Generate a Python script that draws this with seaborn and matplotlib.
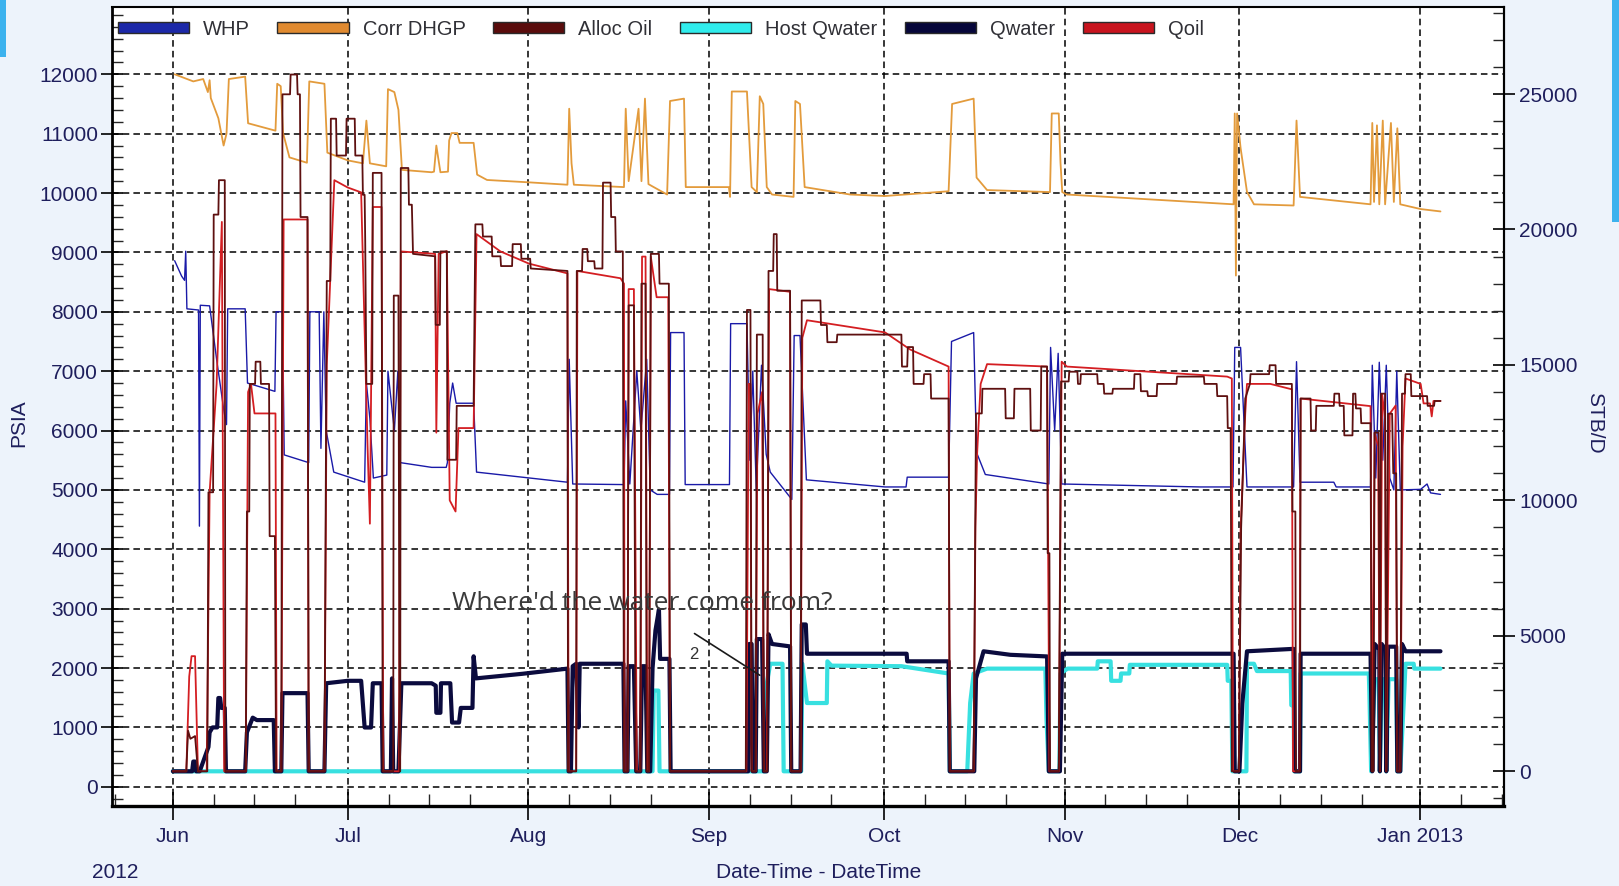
import numpy as np
import pandas as pd
import matplotlib
matplotlib.use("Agg")
import matplotlib.pyplot as plt
import matplotlib.dates as mdates
from matplotlib.patches import Patch, Rectangle
from matplotlib.ticker import FixedLocator
import seaborn as sns

sns.set_theme(style="white")
plt.rcParams["font.family"] = ["Liberation Sans", "DejaVu Sans"]

START = pd.Timestamp("2012-06-01")

# (days since 1 Jun 2012, value) breakpoints for each trace
whp = [(0.3, 8860), (1.5, 8600), (2.0, 8530), (2.2, 9020), (2.4, 8050), (4.4, 8030), (4.55, 4390),
       (4.7, 8110), (6.3, 8100), (7.5, 7200), (8.8, 6300), (9.2, 6100), (9.4, 8050), (12.4, 8050),
       (12.8, 6800), (17.5, 6660), (17.7, 8000), (18.8, 8000), (19.1, 5590), (23.3, 5460), (23.5, 8000),
       (25.1, 8000), (25.4, 5700), (25.9, 8000), (26.3, 6000), (27.6, 5300), (32.9, 5130), (33.2, 6800),
       (33.8, 6200), (34.4, 5200), (36.7, 5250), (36.9, 7000), (38.0, 6000), (38.6, 7000), (39.0, 5460),
       (44.4, 5380), (46.9, 5380), (47.1, 5460), (47.5, 6460), (48.0, 6800), (48.6, 6460), (51.6, 6460),
       (52.1, 5300), (67.7, 5130), (68.0, 7200), (68.6, 5100), (77.4, 5090), (77.7, 6500), (78.4, 5100),
       (79.6, 7000), (80.3, 6000), (81.3, 7200), (81.9, 5000), (83.1, 4925), (85.2, 4925), (85.4, 7650),
       (87.7, 7650), (87.9, 5090), (95.5, 5090), (95.7, 7800), (98.5, 7800), (99.0, 5500), (99.5, 7000),
       (100.1, 5000), (101.0, 7100), (101.8, 5600), (102.5, 5300), (106.2, 4840), (106.6, 7600),
       (107.6, 7600), (108.7, 5170), (122.2, 5050), (125.8, 5050), (126.0, 5215), (133.1, 5215),
       (133.6, 7500), (137.4, 7650), (137.9, 5630), (139.4, 5260), (150.3, 5100), (150.6, 7400),
       (151.3, 6000), (151.9, 7300), (152.5, 5100), (176.3, 5050), (181.9, 5050), (182.2, 7400),
       (183.2, 7400), (184.3, 5050), (192.3, 5050), (192.8, 7160), (193.4, 5130), (199.2, 5130),
       (199.6, 5050), (205.5, 5050), (205.8, 7100), (206.4, 5200), (207.0, 7150), (207.6, 5500),
       (208.2, 7100), (208.8, 5200), (209.5, 5000), (210.0, 7000), (210.6, 5000), (214.1, 5010),
       (215.2, 5100), (215.8, 4950), (217.5, 4925)]

corr_dhgp = [(0.3, 12000), (3.5, 11880), (5.2, 11920), (6.0, 11700), (6.3, 11900), (6.5, 11600),
             (7.8, 11260), (8.7, 10800), (9.2, 11000), (9.6, 11920), (12.4, 11960), (12.9, 11175),
             (17.6, 11050), (17.9, 11840), (18.5, 11800), (18.9, 11010), (20.0, 10600), (23.0, 10510),
             (23.4, 11880), (26.0, 11840), (26.5, 10680), (30.0, 10550), (32.6, 10500), (33.2, 11220),
             (33.8, 10500), (36.6, 10450), (36.9, 11750), (38.0, 11700), (38.7, 11400), (39.3, 10390),
             (44.4, 10350), (44.8, 10360), (45.2, 10800), (45.9, 10350), (47.2, 10360), (47.4, 10885),
             (47.8, 11010), (48.8, 11010), (49.2, 10845), (51.6, 10845), (52.2, 10310), (53.9, 10220),
             (61.1, 10180), (67.7, 10140), (68.0, 11420), (68.4, 10500), (68.8, 10140), (77.4, 10100),
             (77.7, 11420), (78.2, 10200), (79.9, 11420), (80.4, 10200), (81.0, 11590), (81.6, 10150),
             (82.5, 10100), (84.8, 9975), (85.3, 11550), (87.7, 11590), (88.0, 10100), (95.4, 10100),
             (95.6, 9935), (95.9, 11710), (98.5, 11710), (99.3, 10100), (100.2, 10015), (100.7, 11630),
             (101.3, 11500), (101.9, 10100), (102.8, 9975), (106.5, 9935), (106.8, 11550), (107.6, 11500),
             (108.4, 10100), (116.2, 9975), (122.2, 9950), (133.1, 10030), (133.7, 11500), (137.4, 11590),
             (137.9, 10260), (139.7, 10050), (150.5, 10016), (150.8, 11340), (152.0, 11340), (152.3, 10510),
             (152.6, 10016), (153.4, 9975), (182.0, 9810), (182.2, 11340), (182.4, 8610), (182.6, 11340),
             (183.2, 10760), (184.3, 10020), (185.5, 9810), (192.3, 9790), (192.8, 11220), (193.4, 9935),
             (205.5, 9810), (205.8, 11180), (206.1, 9850), (206.6, 11140), (207.0, 9810), (207.6, 11220),
             (208.0, 9810), (209.0, 11180), (209.5, 9850), (210.1, 11090), (210.6, 9810), (214.1, 9730),
             (217.5, 9690)]

alloc_oil = [(0, 0), (2.3, 0), (2.6, 1500), (3.0, 1200), (3.8, 1300), (4.3, 0), (5.9, 0), (6.1, 10300),
             (6.9, 10300), (7.0, 20550), (7.8, 20550), (7.9, 21820), (8.9, 21820), (9.0, 0), (12.5, 0),
             (12.7, 9590), (13.1, 9590), (13.2, 14300), (14.1, 14300), (14.2, 15120), (15.0, 15120),
             (15.1, 14300), (16.5, 14300), (16.6, 8680), (17.5, 8680), (17.7, 0), (18.6, 0), (18.8, 24990),
             (20.1, 24990), (20.2, 25720), (21.3, 25720), (21.4, 24990), (21.8, 24990), (21.9, 20460),
             (23.1, 20460), (23.3, 0), (26.0, 0), (26.4, 18100), (27.0, 18100), (27.1, 24090), (28.0, 24090),
             (28.1, 22730), (29.7, 22730), (29.8, 24090), (31.2, 24090), (31.3, 22730), (32.5, 22730),
             (32.6, 21280), (32.9, 21280), (33.0, 19550), (33.2, 14300), (34.2, 14300), (34.3, 22090),
             (35.8, 22090), (36.0, 0), (37.8, 0), (37.9, 17560), (38.7, 17560), (38.9, 0), (39.0, 0),
             (39.1, 22270), (40.4, 22270), (40.5, 20915), (41.0, 20915), (41.2, 19100), (45.0, 19010),
             (45.1, 16480), (45.8, 16480), (45.9, 19190), (47.0, 19190), (47.1, 11500), (48.6, 11500),
             (48.7, 13490), (51.6, 13490), (51.9, 20190), (53.1, 20190), (53.2, 19740), (54.7, 19740),
             (54.8, 19010), (56.2, 19010), (56.3, 18650), (58.2, 18650), (58.3, 19460), (59.7, 19460),
             (59.8, 18920), (61.3, 18920), (61.4, 18560), (67.7, 18470), (67.8, 0), (69.2, 0), (69.3, 18470),
             (70.2, 18470), (70.3, 19280), (71.1, 19280), (71.2, 18830), (72.3, 18830), (72.4, 18560),
             (73.7, 18560), (73.8, 21730), (75.1, 21730), (75.2, 20460), (75.9, 20460), (76.0, 19190),
             (77.2, 19190), (77.4, 0), (78.0, 0), (78.2, 17200), (79.1, 17200), (79.4, 0), (80.2, 0),
             (80.4, 18000), (81.1, 18000), (81.3, 0), (81.7, 0), (82.0, 19100), (83.4, 19100), (83.5, 18000),
             (85.1, 18000), (85.3, 0), (98.3, 0), (98.5, 17030), (99.1, 17030), (99.3, 0), (100.0, 0),
             (100.2, 16120), (101.2, 16120), (101.4, 0), (102.0, 0), (102.2, 18470), (103.0, 18470),
             (103.1, 19830), (103.6, 19830), (103.7, 17740), (105.9, 17740), (106.1, 0), (107.7, 0),
             (107.9, 17380), (111.1, 17380), (111.2, 16475), (112.2, 16475), (112.3, 15840), (113.9, 15840),
             (114.0, 16120), (125.0, 16120), (125.1, 14940), (126.0, 14940), (126.1, 15660), (127.0, 15660),
             (127.1, 14300), (128.8, 14300), (128.9, 14660), (130.0, 14660), (130.1, 13760), (133.1, 13760),
             (133.3, 0), (137.4, 0), (137.8, 13210), (138.8, 13210), (138.9, 14120), (142.8, 14120),
             (142.9, 13030), (144.3, 13030), (144.4, 14120), (147.1, 14120), (147.2, 12580), (148.9, 12580),
             (149.0, 14940), (150.0, 14940), (150.1, 8050), (150.4, 8050), (150.5, 0), (152.0, 0),
             (152.4, 14390), (153.7, 14390), (153.8, 14750), (155.2, 14750), (155.3, 14300), (155.7, 14300),
             (155.8, 14660), (158.6, 14660), (158.7, 14300), (159.7, 14300), (159.8, 13940), (161.2, 13940),
             (161.3, 14120), (164.9, 14120), (165.0, 14660), (166.0, 14660), (166.1, 14030), (167.2, 14030),
             (167.3, 13850), (168.8, 13850), (168.9, 14300), (172.2, 14300), (172.3, 14570), (176.9, 14570),
             (177.0, 14300), (179.1, 14300), (179.2, 13850), (180.9, 13850), (181.0, 12670), (181.5, 12670),
             (181.7, 0), (182.9, 0), (183.3, 9000), (184.0, 13760), (184.8, 14300), (184.9, 14660),
             (188.1, 14660), (188.2, 14990), (189.2, 14990), (189.3, 14300), (192.0, 14300), (192.1, 9590),
             (192.6, 9590), (192.7, 0), (193.4, 0), (193.5, 13760), (195.2, 13760), (195.3, 12580),
             (196.1, 12580), (196.2, 13490), (199.2, 13490), (199.3, 13940), (200.1, 13940), (200.2, 13490),
             (200.9, 13490), (201.0, 12400), (202.4, 12400), (202.5, 13940), (202.9, 13940), (203.0, 13395),
             (203.8, 13395), (203.9, 12850), (205.5, 12850), (205.7, 0), (206.0, 0), (206.2, 12500),
             (206.9, 12500), (207.1, 0), (207.3, 13940), (208.0, 13940), (208.2, 0), (208.5, 13200),
             (209.2, 13200), (209.4, 11000), (209.9, 11000), (210.1, 0), (210.6, 0), (210.9, 13940),
             (211.4, 13940), (211.5, 14660), (212.4, 14660), (212.5, 13850), (215.2, 13850), (215.3, 13490),
             (216.4, 13490), (216.5, 13670), (217.5, 13670)]

host_qwater = [(0, 0), (82.3, 0), (82.5, 2980), (83.3, 2980), (83.5, 0), (101.7, 0), (101.9, 3250),
               (102.5, 3970), (104.6, 3970), (104.8, 0), (107.8, 0), (108.0, 3970), (108.8, 2520),
               (112.2, 2520), (112.3, 4060), (113.0, 3900), (125.0, 3880), (133.1, 3610), (133.3, 0),
               (136.3, 0), (136.8, 2520), (137.4, 3610), (139.7, 3790), (149.7, 3790), (149.9, 1900),
               (150.3, 0), (152.1, 0), (152.3, 3610), (153.5, 3790), (158.6, 3790), (158.7, 4060),
               (160.9, 4060), (161.0, 3340), (162.6, 3340), (162.7, 3610), (164.1, 3610), (164.2, 3930),
               (180.9, 3930), (181.0, 3340), (181.6, 3340), (181.8, 0), (184.2, 0), (184.3, 3970),
               (185.5, 3970), (186.0, 3700), (191.8, 3700), (191.9, 2440), (192.3, 2440), (192.4, 0),
               (193.4, 0), (193.5, 3610), (205.2, 3610), (205.3, 2900), (205.6, 0), (206.2, 3400),
               (206.9, 3400), (207.1, 0), (207.4, 3400), (208.0, 3400), (208.2, 0), (208.6, 3400),
               (209.9, 3400), (210.1, 0), (210.6, 0), (211.3, 3000), (211.5, 3970), (212.9, 3970),
               (213.0, 3790), (217.5, 3790)]

qwater = [(0, 0), (3.3, 0), (3.5, 360), (3.8, 360), (4.0, 0), (4.6, 0), (6.1, 900), (6.3, 1436),
          (6.8, 1620), (7.6, 1620), (7.8, 2705), (8.1, 2705), (8.3, 2340), (8.9, 2340), (9.1, 0),
          (12.4, 0), (12.7, 1436), (13.7, 1980), (14.4, 1890), (17.3, 1890), (17.5, 0), (18.6, 0),
          (18.8, 2885), (23.1, 2885), (23.3, 0), (26.0, 0), (26.3, 3250), (30.0, 3340), (32.3, 3340),
          (32.9, 1617), (34.0, 1617), (34.3, 3250), (35.8, 3250), (36.0, 0), (37.4, 0), (37.6, 3430),
          (37.8, 0), (38.7, 0), (39.2, 3250), (44.4, 3250), (45.1, 3160), (45.2, 2160), (45.9, 2160),
          (46.0, 3250), (47.6, 3250), (47.9, 1800), (49.1, 1800), (49.4, 2340), (51.4, 2340), (51.6, 4245),
          (52.0, 3430), (60.0, 3600), (67.7, 3790), (67.9, 0), (68.3, 0), (68.6, 3880), (69.2, 3970),
          (69.6, 1620), (69.8, 3970), (77.3, 3970), (77.5, 0), (78.0, 0), (78.2, 3880), (79.1, 3880),
          (79.5, 0), (80.2, 0), (80.5, 3880), (81.1, 3880), (81.4, 0), (81.9, 0), (82.3, 3800), (82.8, 5200),
          (83.4, 5970), (83.6, 4150), (85.2, 4150), (85.4, 0), (98.7, 0), (98.9, 4700), (99.3, 4700),
          (99.5, 0), (100.0, 0), (100.2, 4880), (101.1, 4880), (101.4, 0), (101.9, 0), (102.2, 5060),
          (102.8, 4700), (105.9, 4610), (106.1, 0), (107.7, 0), (107.9, 5420), (108.6, 5420), (108.8, 4340),
          (125.9, 4340), (126.0, 4060), (133.1, 4060), (133.3, 0), (137.5, 0), (137.8, 3430), (139.1, 4430),
          (143.7, 4300), (150.0, 4240), (150.3, 0), (152.2, 0), (152.6, 4340), (182.0, 4340), (182.2, 0),
          (183.0, 0), (183.5, 2500), (184.3, 4430), (192.3, 4520), (192.5, 0), (193.4, 0), (193.5, 4340),
          (205.5, 4340), (205.8, 0), (206.2, 4700), (207.0, 4500), (207.1, 0), (207.4, 4700), (208.1, 4500),
          (208.2, 0), (208.5, 4600), (209.9, 4600), (210.1, 0), (210.6, 0), (210.9, 4700), (211.5, 4430),
          (217.5, 4430)]

qoil = [(0, 0), (2.3, 0), (2.8, 3500), (3.2, 4250), (3.8, 4250), (4.3, 0), (5.8, 0), (6.3, 10300),
        (7.5, 14300), (8.4, 20280), (8.8, 0), (12.5, 0), (12.9, 14000), (13.4, 14300), (14.0, 13210),
        (17.6, 13210), (17.8, 0), (18.6, 0), (19.0, 20370), (23.1, 20370), (23.3, 0), (26.0, 0),
        (26.4, 15000), (27.7, 21820), (30.0, 21550), (32.3, 21370), (33.4, 12000), (33.8, 9140),
        (34.3, 20830), (35.8, 20830), (36.1, 0), (38.8, 0), (39.1, 19190), (45.0, 19100), (45.2, 12500),
        (45.6, 19100), (47.0, 19200), (47.5, 10000), (48.5, 9590), (49.0, 12670), (51.6, 12670),
        (52.1, 19830), (56.2, 19190), (61.1, 18740), (67.7, 18380), (67.9, 0), (69.2, 0), (69.4, 18470),
        (76.8, 18200), (77.4, 18000), (77.5, 0), (78.0, 0), (78.2, 17800), (79.1, 17800), (79.6, 0),
        (80.2, 0), (80.5, 19000), (81.1, 19000), (81.4, 0), (81.7, 0), (82.0, 19000), (83.0, 17500),
        (85.0, 17500), (85.3, 0), (98.4, 0), (98.8, 14300), (99.1, 14300), (99.3, 0), (100.0, 0),
        (100.3, 13200), (101.1, 14000), (101.4, 0), (101.9, 0), (102.3, 17800), (105.9, 17700), (106.1, 0),
        (107.7, 0), (108.0, 16000), (108.8, 16650), (122.2, 16200), (126.5, 15570), (133.1, 14940),
        (133.3, 0), (137.4, 0), (137.7, 9000), (138.0, 11760), (138.6, 14300), (139.7, 15030),
        (150.0, 14940), (150.4, 0), (152.0, 0), (152.5, 15120), (153.4, 14940), (180.9, 14570),
        (181.7, 14500), (181.9, 0), (182.9, 0), (183.2, 8870), (184.0, 13200), (184.3, 14300),
        (188.3, 14300), (192.0, 14100), (192.2, 0), (193.3, 0), (193.5, 13760), (205.5, 13480), (205.8, 0),
        (206.2, 12500), (206.8, 12000), (207.1, 0), (207.5, 13900), (208.0, 13000), (208.2, 0),
        (208.8, 13200), (209.8, 13500), (210.1, 0), (210.6, 0), (211.0, 12000), (211.5, 14500),
        (214.1, 14300), (214.6, 13580), (215.7, 13580), (216.0, 13100), (216.3, 13670), (217.5, 13670)]

series_names = ["WHP", "Corr DHGP", "Alloc Oil", "Host Qwater", "Qwater", "Qoil"]
series_colors = ["#1a1aa8", "#e39b3c", "#5e1010", "#38e0e0", "#0b0b3e", "#d41e22"]
legend_colors = ["#1c28a8", "#e08a30", "#5a0c0c", "#30ecec", "#06063a", "#c8141e"]
month_labels = ["Jun", "Jul", "Aug", "Sep", "Oct", "Nov", "Dec", "Jan 2013"]

NAVY = "#1e1e5c"


def frame(pairs):
    df = pd.DataFrame(pairs, columns=["day", "value"])
    df["time"] = START + pd.to_timedelta(df["day"], unit="D")
    return df


def dnum(day):
    return mdates.date2num(START + pd.Timedelta(days=day))


W, H = 1619, 886
fig = plt.figure(figsize=(W / 100, H / 100), dpi=100, facecolor="#edf3fb")
L, R, T, B = 112, 1504, 7, 806
ax = fig.add_axes([L / W, 1 - B / H, (R - L) / W, (B - T) / H])
ax.set_facecolor("white")
ax2 = ax.twinx()

# pressures on the left axis
sns.lineplot(data=frame(whp), x="time", y="value", ax=ax, color=series_colors[0], lw=1.0,
             sort=False, estimator=None, legend=False, zorder=3)
sns.lineplot(data=frame(corr_dhgp), x="time", y="value", ax=ax, color=series_colors[1], lw=1.3,
             sort=False, estimator=None, legend=False, zorder=3)

# rates on the right axis
sns.lineplot(data=frame(host_qwater), x="time", y="value", ax=ax2, color=series_colors[3], lw=3.0,
             sort=False, estimator=None, legend=False, zorder=2)
sns.lineplot(data=frame(qwater), x="time", y="value", ax=ax2, color=series_colors[4], lw=3.0,
             sort=False, estimator=None, legend=False, zorder=3)
sns.lineplot(data=frame(qoil), x="time", y="value", ax=ax2, color=series_colors[5], lw=1.3,
             sort=False, estimator=None, legend=False, zorder=4)
sns.lineplot(data=frame(alloc_oil), x="time", y="value", ax=ax2, color=series_colors[2], lw=1.3,
             sort=False, estimator=None, legend=False, zorder=5)

ax.set_xlim(START + pd.Timedelta(days=-10.45), START + pd.Timedelta(days=228.4))
ax.set_ylim(-323, 13133)
ax2.set_ylim(-1281, 28213)

# x ticks: month starts with weekly minor marks
month_starts = pd.date_range("2012-06-01", "2013-01-01", freq="MS")
ax.xaxis.set_major_locator(FixedLocator(mdates.date2num(month_starts)))
ax.set_xticklabels(month_labels)
minor_dates = [pd.Timestamp(year=m.year, month=m.month, day=d)
               for m in pd.date_range("2012-05-01", "2013-01-01", freq="MS") for d in (8, 15, 22)]
ax.xaxis.set_minor_locator(FixedLocator(mdates.date2num(minor_dates)))

ax.yaxis.set_major_locator(FixedLocator(np.arange(0, 12001, 1000)))
ax.yaxis.set_minor_locator(FixedLocator(np.arange(-200, 13201, 200)))
ax2.yaxis.set_major_locator(FixedLocator(np.arange(0, 25001, 5000)))
ax2.yaxis.set_minor_locator(FixedLocator(np.arange(-1000, 28001, 1000)))

for a in (ax, ax2):
    a.set_xlabel("")
    a.set_ylabel("")

ax.tick_params(axis="x", which="major", direction="inout", length=20, width=1.2, bottom=True,
               top=False, color="black", labelcolor=NAVY, labelsize=15, pad=5)
ax.tick_params(axis="x", which="minor", direction="in", length=8.5, width=1.0, bottom=True, top=False)
ax.tick_params(axis="y", which="major", direction="inout", length=16, width=1.2, left=True,
               right=False, color="black", labelcolor=NAVY, labelsize=15, pad=2)
ax.tick_params(axis="y", which="minor", direction="in", length=8, width=1.0, left=True, right=False)
ax2.tick_params(axis="y", which="major", direction="inout", length=16, width=1.2, right=True,
                left=False, color="black", labelcolor=NAVY, labelsize=15, pad=3)
ax2.tick_params(axis="y", which="minor", direction="in", length=8, width=1.0, right=True, left=False)

ax.grid(True, which="major", axis="both", color="black", linestyle=(0, (4.3, 2.7)), linewidth=1.1)
ax2.grid(False)

for side, lw in (("left", 2.0), ("bottom", 2.4), ("top", 1.5), ("right", 1.5)):
    ax.spines[side].set_visible(True)
    ax.spines[side].set_color("black")
    ax.spines[side].set_linewidth(lw)
for side in ("left", "bottom", "top"):
    ax2.spines[side].set_visible(False)
ax2.spines["right"].set_visible(True)
ax2.spines["right"].set_color("black")
ax2.spines["right"].set_linewidth(1.5)

handles = [Patch(facecolor=c, edgecolor="#2a2a2a", linewidth=1.0, label=n)
           for n, c in zip(series_names, legend_colors)]
ax2.legend(handles=handles, loc="upper left", bbox_to_anchor=(0.004, 0.984), ncol=6, frameon=False,
           fontsize=14.5, handlelength=3.55, handleheight=0.42, handletextpad=0.7, columnspacing=1.35,
           borderpad=0.0, borderaxespad=0.0, labelcolor="#303036")

# annotation pointing at the water breakthrough
ax2.text(dnum(80.6), 3080, "Where'd the water come from?", transform=ax.transData, ha="center",
         va="center", fontsize=19, color="#3a3a3a", family=["Open Sans", "DejaVu Sans"], zorder=10)
ax2.annotate("", xy=(dnum(101.1), 1854), xytext=(dnum(89.1), 2607), xycoords=ax.transData,
             textcoords=ax.transData,
             arrowprops=dict(arrowstyle="-", color="#1a1a1a", lw=1.2), zorder=10)
ax2.text(dnum(89.3), 2230, "2", transform=ax.transData, ha="center", va="center", fontsize=12,
         color="#333333", zorder=10)

fig.text(18.6 / W, 1 - 423 / H, "PSIA", rotation=90, ha="center", va="center", fontsize=15, color=NAVY)
fig.text(1595 / W, 1 - 423 / H, "STB/D", rotation=270, ha="center", va="center", fontsize=15, color=NAVY)
fig.text(819 / W, 1 - 872 / H, "Date-Time - DateTime", ha="center", va="center", fontsize=15, color=NAVY)
fig.text(115.6 / W, 1 - 872 / H, "2012", ha="center", va="center", fontsize=15, color=NAVY)

# slide accent bars at the edges
fig.add_artist(Rectangle((0, 1 - 57 / H), 6 / W, 57 / H, transform=fig.transFigure,
                         facecolor="#3cb2ee", edgecolor="none", zorder=0))
fig.add_artist(Rectangle((1612 / W, 1 - 222 / H), 7 / W, 222 / H, transform=fig.transFigure,
                         facecolor="#3cb2ee", edgecolor="none", zorder=0))

fig.savefig("out.png", dpi=100, facecolor=fig.get_facecolor())
